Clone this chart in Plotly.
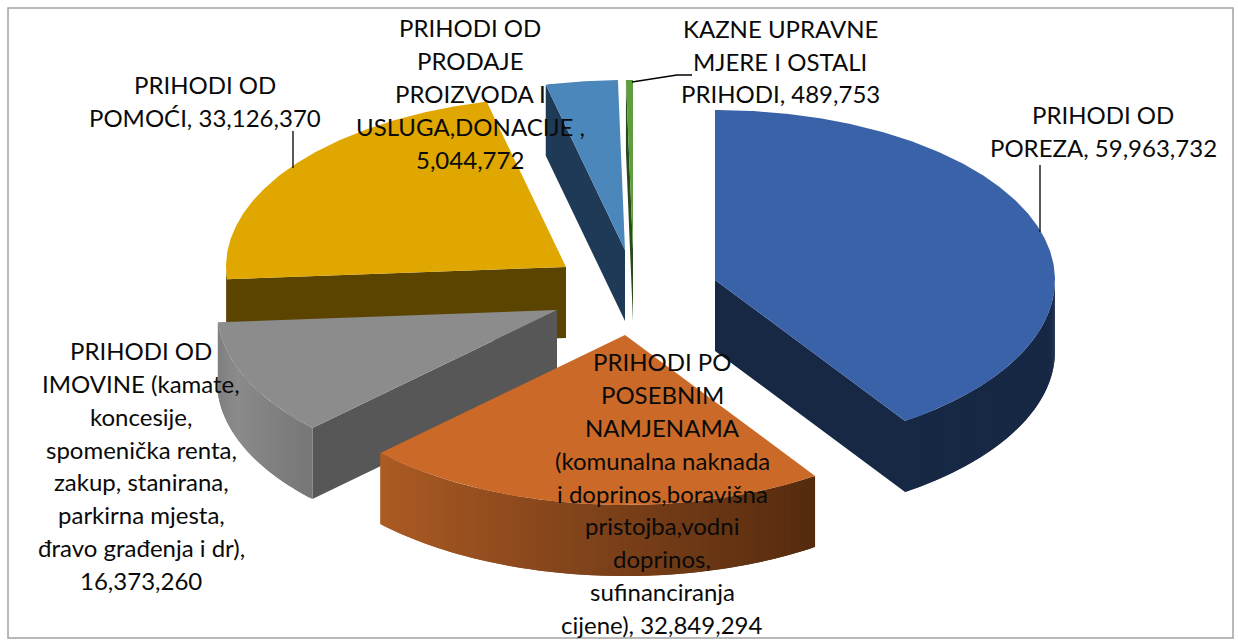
import math
import plotly.graph_objects as go

# ---- data ----
categories = ["PRIHODI OD POREZA", "PRIHODI PO POSEBNIM NAMJENAMA", "PRIHODI OD IMOVINE",
              "PRIHODI OD POMOĆI", "PRIHODI OD PRODAJE PROIZVODA I USLUGA,DONACIJE",
              "KAZNE UPRAVNE MJERE I OSTALI PRIHODI"]
values = [59963732, 32849294, 16373260, 33126370, 5044772, 489753]
label_lines = [
    ["PRIHODI OD", "POREZA, 59,963,732"],
    ["PRIHODI PO", "POSEBNIM", "NAMJENAMA", "(komunalna naknada", "i doprinos,boravišna",
     "pristojba,vodni", "doprinos,", "sufinanciranja", "cijene), 32,849,294"],
    ["PRIHODI OD", "IMOVINE (kamate,", "koncesije,", "spomenička renta,", "zakup, stanirana,",
     "parkirna mjesta,", "đravo građenja i dr),", "16,373,260"],
    ["PRIHODI OD", "POMOĆI, 33,126,370"],
    ["PRIHODI OD", "PRODAJE", "PROIZVODA I", "USLUGA,DONACIJE ,", "5,044,772"],
    ["KAZNE UPRAVNE", "MJERE I OSTALI", "PRIHODI, 489,753"],
]

# ---- style / layout ----
W, H = 1238, 640
RX, RY, DEPTH = 340, 170, 71
LINE_STEP = 32.8
apex = [(715, 280), (625, 335), (557, 310), (566, 267), (625, 250), (633, 250)]
top_col = ["#3a62a9", "#ca6928", "#8c8c8c", "#dfa700", "#4c87bc", "#5e9e3e"]
cut_col = ["#172845", "#552b0e", "#575757", "#5b4300", "#1f3a56", "#2a4a1c"]
arc_stops = [
    [(0, "#172845"), (1, "#172845")],
    [(0, "#ad5c24"), (0.5, "#80431b"), (1, "#552b0e")],
    [(0, "#7c7c7c"), (0.4, "#8c8c8c"), (1, "#787878")],
    [(0, "#5b4300"), (1, "#5b4300")],
    [(0, "#1f3a56"), (1, "#1f3a56")],
    [(0, "#2a4a1c"), (1, "#2a4a1c")],
]
label_pos = [(1103, 131), (662, 493), (141, 465.5), (205, 101), (470, 93.5), (780, 61)]
leaders = [([1040, 1040], [165, 232]), ([293, 293], [131, 168]), ([632, 677, 692], [82, 75, 75])]
draw_order = [3, 4, 5, 0, 2, 1]
FONT = dict(family="Lato, Carlito, Calibri, sans-serif", size=24, color="#0a0a0a")


def pt(c, deg, dy=0):
    r = math.radians(deg)
    return c[0] + RX * math.sin(r), c[1] - RY * math.cos(r) + dy


def hex2rgb(h):
    return tuple(int(h[i:i + 2], 16) for i in (1, 3, 5))


def ramp(stops, t):
    for (t0, c0), (t1, c1) in zip(stops, stops[1:]):
        if t <= t1:
            f = (t - t0) / (t1 - t0)
            a, b = hex2rgb(c0), hex2rgb(c1)
            return "rgb(%d,%d,%d)" % tuple(a[k] + (b[k] - a[k]) * f for k in range(3))
    return stops[-1][1]


def poly(fig, pts, color, name):
    xs = [p[0] for p in pts] + [pts[0][0]]
    ys = [p[1] for p in pts] + [pts[0][1]]
    fig.add_trace(go.Scatter(x=xs, y=ys, mode="lines", fill="toself", fillcolor=color,
                             line=dict(color=color, width=0), name=name,
                             hoverinfo="name", showlegend=False))


total = sum(values)
angles = [0]
for v in values:
    angles.append(angles[-1] + 360 * v / total)

fig = go.Figure()
for i in draw_order:
    a0, a1 = angles[i], angles[i + 1]
    c = apex[i]
    name = categories[i]
    # cut faces: only the ones turned towards the viewer
    for a, visible in ((a0, math.sin(math.radians(a0)) < -1e-6), (a1, math.sin(math.radians(a1)) > 1e-6)):
        if visible:
            p = pt(c, a)
            poly(fig, [c, p, (p[0], p[1] + DEPTH), (c[0], c[1] + DEPTH)], cut_col[i], name)
    # outer rim: only the part that faces the viewer
    lo, hi = max(a0, 90), min(a1, 270)
    if hi > lo:
        n = max(2, int((hi - lo) * 1.5))
        step = (hi - lo) / n
        for k in range(n):
            s0 = lo + step * k
            s1 = min(s0 + 2 * step, hi)  # overlaps the next strip, which paints over it
            t = 1 - (s0 + step / 2 - lo) / (hi - lo)
            col = ramp(arc_stops[i], t)
            span = [s0 + (s1 - s0) * j / 4 for j in range(5)]
            upper = [pt(c, s) for s in span]
            lower = [(x, y + DEPTH) for x, y in reversed(upper)]
            poly(fig, upper + lower, col, name)
    # top surface
    n = max(2, int((a1 - a0) * 2))
    arc = [pt(c, a0 + (a1 - a0) * k / n) for k in range(n + 1)]
    poly(fig, [c] + arc, top_col[i], name)

for xs, ys in leaders:
    fig.add_trace(go.Scatter(x=xs, y=ys, mode="lines", line=dict(color="#000000", width=1.3),
                             hoverinfo="skip", showlegend=False))

for lines, (x, yc) in zip(label_lines, label_pos):
    y0 = yc - (len(lines) - 1) / 2 * LINE_STEP
    for j, line in enumerate(lines):
        fig.add_annotation(x=x, y=y0 + j * LINE_STEP, text=line, showarrow=False, font=FONT,
                           xanchor="center", yanchor="middle", align="center")

fig.add_shape(type="rect", x0=8, y0=8, x1=1233, y1=638, line=dict(color="#a3a3a3", width=1.5), layer="below")

fig.update_layout(
    width=W, height=H, margin=dict(l=0, r=0, t=0, b=0), showlegend=False,
    paper_bgcolor="white", plot_bgcolor="white",
    xaxis=dict(range=[0, W], visible=False, fixedrange=True),
    yaxis=dict(range=[H, 0], visible=False, fixedrange=True),
)
fig.write_html("out.html", config={"displayModeBar": False},
               post_script="document.body.style.margin='0';document.body.style.overflow='hidden';")
